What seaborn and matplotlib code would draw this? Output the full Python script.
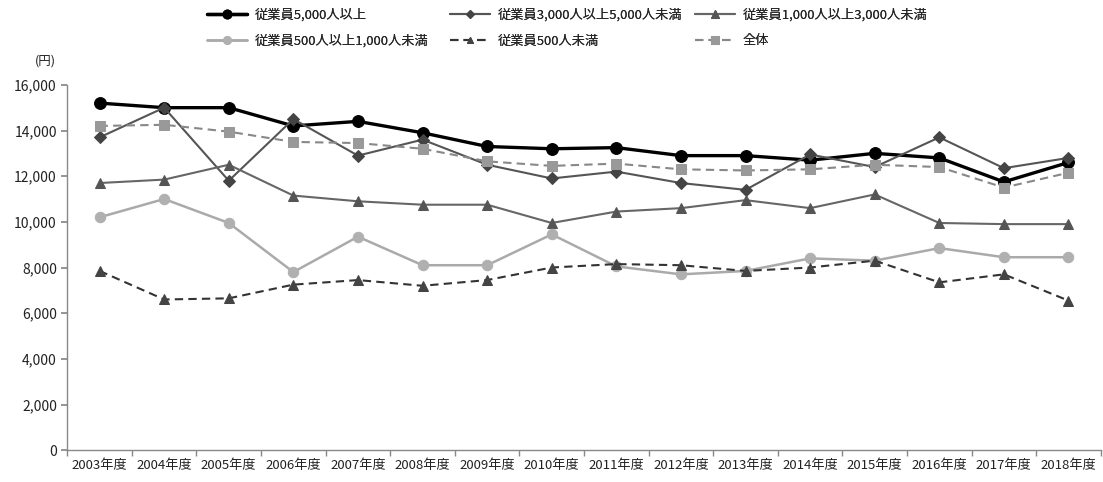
import matplotlib
matplotlib.use("Agg")
import matplotlib.pyplot as plt
import seaborn as sns
import numpy as np
import pandas as pd
from matplotlib.ticker import FuncFormatter, FixedLocator

years = ["2003年度", "2004年度", "2005年度", "2006年度", "2007年度", "2008年度", "2009年度", "2010年度",
         "2011年度", "2012年度", "2013年度", "2014年度", "2015年度", "2016年度", "2017年度", "2018年度"]

s5000 = [15200, 15000, 15000, 14200, 14400, 13900, 13300, 13200, 13250, 12900, 12900, 12700, 13000, 12800, 11750, 12600]
s3000_5000 = [13700, 15000, 11800, 14500, 12900, 13600, 12500, 11900, 12200, 11700, 11400, 12950, 12400, 13700, 12350, 12800]
s1000_3000 = [11700, 11850, 12500, 11150, 10900, 10750, 10750, 9950, 10450, 10600, 10950, 10600, 11200, 9950, 9900, 9900]
s500_1000 = [10200, 11000, 9950, 7800, 9350, 8100, 8100, 9450, 8050, 7700, 7850, 8400, 8300, 8850, 8450, 8450]
s_lt500 = [7850, 6600, 6650, 7250, 7450, 7200, 7450, 8000, 8150, 8100, 7850, 8000, 8300, 7350, 7700, 6550]
s_all = [14200, 14250, 13950, 13500, 13450, 13200, 12650, 12450, 12550, 12300, 12250, 12300, 12500, 12400, 11500, 12150]

labels = ["従業員5,000人以上", "従業員3,000人以上5,000人未満", "従業員1,000人以上3,000人未満",
          "従業員500人以上1,000人未満", "従業員500人未満", "全体"]

sns.set_theme(style="white")
plt.rcParams['font.family'] = ['Noto Sans CJK JP', 'DejaVu Sans']

fig = plt.figure(figsize=(11.03, 4.82), dpi=100)
ax = fig.add_axes([0.061, 0.066, 0.937, 0.758])

x = np.arange(len(years))
series = [s5000, s3000_5000, s1000_3000, s500_1000, s_lt500, s_all]
styles = [
    dict(color="#000000", marker="o", ms=8.5, lw=2.4, ls="-", mfc="#000000", mec="#000000"),
    dict(color="#555555", marker="D", ms=6, lw=1.5, ls="-", mfc="#444444", mec="#444444"),
    dict(color="#666666", marker="^", ms=7, lw=1.5, ls="-", mfc="#555555", mec="#555555"),
    dict(color="#aaaaaa", marker="o", ms=7.5, lw=1.8, ls="-", mfc="#b0b0b0", mec="#b0b0b0"),
    dict(color="#333333", marker="^", ms=6.5, lw=1.5, ls=(0, (4, 2.5)), mfc="#444444", mec="#444444"),
    dict(color="#888888", marker="s", ms=7.5, lw=1.5, ls=(0, (4, 2.5)), mfc="#999999", mec="#999999"),
]

handles = []
for vals, lab, st in zip(series, labels, styles):
    df = pd.DataFrame({"x": x, "y": vals})
    sns.lineplot(data=df, x="x", y="y", ax=ax, color=st["color"], linewidth=st["lw"],
                 linestyle=st["ls"], marker=st["marker"], markersize=st["ms"],
                 markerfacecolor=st["mfc"], markeredgecolor=st["mec"], label=lab, legend=False)
    handles.append(ax.lines[-1])

ax.set_xlim(-0.5, len(years) - 0.5)
ax.set_ylim(0, 16000)
ax.set_yticks(np.arange(0, 16001, 2000))
ax.yaxis.set_major_formatter(FuncFormatter(lambda v, p: f"{int(v):,}"))
ax.set_xticks(x)
ax.set_xticklabels(years)
ax.xaxis.set_minor_locator(FixedLocator(np.arange(-0.5, len(years), 1.0)))
ax.tick_params(axis="x", which="major", length=0, labelsize=9.5, pad=6, colors="#222222")
ax.tick_params(axis="x", which="minor", bottom=True, length=4, color="#888888")
ax.tick_params(axis="y", which="major", left=True, length=4, color="#888888", labelsize=10, colors="#222222")
ax.set_xlabel("")
ax.set_ylabel("")
for side in ["top", "right"]:
    ax.spines[side].set_visible(False)
for side in ["left", "bottom"]:
    ax.spines[side].set_color("#888888")
    ax.spines[side].set_linewidth(1.0)

fig.text(0.041, 0.873, "(円)", fontsize=9, color="#222222", ha="center", va="center")

# three legend columns at fixed positions (row-major order like the reference)
W, H = 1103.0, 482.0
col_x = [207, 450, 695]
cols = [[0, 3], [1, 4], [2, 5]]
for cx, idxs in zip(col_x, cols):
    leg = fig.legend([handles[i] for i in idxs], [labels[i] for i in idxs], ncol=1,
                     loc="center left", bbox_to_anchor=(cx / W, 1 - 28 / H), frameon=False,
                     fontsize=9.5, handlelength=3.0, handletextpad=0.6, labelspacing=0.95,
                     borderpad=0.0, borderaxespad=0.0, markerscale=0.75)
    fig.add_artist(leg)

fig.savefig("out.png", dpi=100, facecolor="white")
